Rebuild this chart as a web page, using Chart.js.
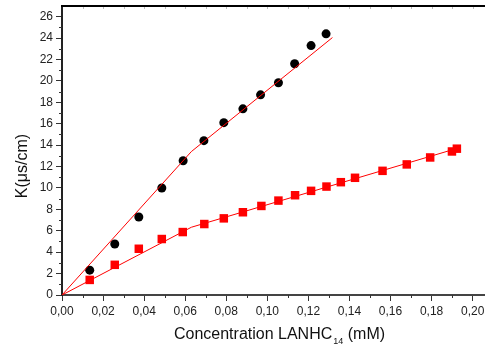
<!DOCTYPE html>
<html>
<head>
<meta charset="utf-8">
<script src="https://cdn.jsdelivr.net/npm/chart.js@4"></script>
<style>
  html, body { margin: 0; padding: 0; background: #fff; }
  #wrap { width: 485px; height: 355px; }
</style>
</head>
<body>
<div id="wrap"><canvas id="kChart" width="485" height="355"></canvas></div>
<script>
// values
const concBlack = [0.0135, 0.0257, 0.0374, 0.0486, 0.0590, 0.0691, 0.0788, 0.0881, 0.0967, 0.1054, 0.1133, 0.1213, 0.1286];
const kBlack = [2.32, 4.76, 7.29, 10.0, 12.54, 14.42, 16.1, 17.39, 18.7, 19.83, 21.6, 23.3, 24.4];
const concRed = [0.0135, 0.0257, 0.0374, 0.0486, 0.0588, 0.0693, 0.0788, 0.0881, 0.0971, 0.1054, 0.1135, 0.1213, 0.1288, 0.1358, 0.1427, 0.1561, 0.1679, 0.1793, 0.1899, 0.1923];
const kRed = [1.41, 2.82, 4.32, 5.23, 5.88, 6.63, 7.16, 7.73, 8.32, 8.82, 9.32, 9.73, 10.13, 10.54, 10.95, 11.6, 12.2, 12.85, 13.41, 13.67];
// fitted lines (two segments each)
const fitBlackX = [0, 0.063, 0.1317];
const fitBlackY = [0, 13.4, 24.05];
const fitRedX = [0, 0.063, 0.1935];
const fitRedY = [0, 6.33, 13.76];
// axis ticks
const xTicks = [0, 0.02, 0.04, 0.06, 0.08, 0.10, 0.12, 0.14, 0.16, 0.18, 0.20];
const yTicks = [0, 2, 4, 6, 8, 10, 12, 14, 16, 18, 20, 22, 24, 26];

const FONT = "'Liberation Sans', Arial, sans-serif";

function toPoints(xs, ys) {
  return xs.map((x, i) => ({ x: x, y: ys[i] }));
}

// minor ticks, top frame and axis titles
const extras = {
  id: "extras",
  afterDraw(chart) {
    const ctx = chart.ctx;
    const area = chart.chartArea;
    const xs = chart.scales.x;
    const ys = chart.scales.y;
    ctx.save();
    // minor ticks
    ctx.strokeStyle = "#333";
    ctx.lineWidth = 1;
    ctx.beginPath();
    for (let v = 1; v < 27; v += 2) {
      const py = Math.round(ys.getPixelForValue(v)) + 0.5;
      ctx.moveTo(area.left - 3, py);
      ctx.lineTo(area.left, py);
    }
    for (let i = 1; i < 21; i += 2) {
      const px = Math.round(xs.getPixelForValue(i / 100)) + 0.5;
      ctx.moveTo(px, area.bottom);
      ctx.lineTo(px, area.bottom + 3);
    }
    ctx.stroke();
    // faint top ticks
    ctx.strokeStyle = "#bbb";
    ctx.beginPath();
    for (let i = 1; i < 21; i++) {
      const px = Math.round(xs.getPixelForValue(i / 100)) + 0.5;
      ctx.moveTo(px, area.top);
      ctx.lineTo(px, area.top + 3);
    }
    ctx.stroke();
    // top frame
    ctx.strokeStyle = "#000";
    ctx.lineWidth = 2;
    ctx.beginPath();
    ctx.moveTo(area.left - 1, area.top);
    ctx.lineTo(area.right, area.top);
    ctx.stroke();

    // x title with subscript
    ctx.fillStyle = "#111";
    ctx.textBaseline = "alphabetic";
    ctx.textAlign = "left";
    const main = "Concentration LANHC";
    const sub = "14";
    const tail = " (mM)";
    ctx.font = "16px " + FONT;
    const wMain = ctx.measureText(main).width;
    const wTail = ctx.measureText(tail).width;
    ctx.font = "9px " + FONT;
    const wSub = ctx.measureText(sub).width;
    let x0 = 279 - (wMain + wSub + wTail) / 2;
    ctx.font = "16px " + FONT;
    ctx.fillText(main, x0, 339);
    ctx.font = "9px " + FONT;
    ctx.fillText(sub, x0 + wMain + 1, 344);
    ctx.font = "16px " + FONT;
    ctx.fillText(tail, x0 + wMain + wSub + 1, 339);

    // y title
    ctx.translate(23, 166);
    ctx.rotate(-Math.PI / 2);
    ctx.textAlign = "center";
    ctx.textBaseline = "middle";
    ctx.fillText("K(\u03bcs/cm)", 0, 0);
    ctx.restore();
  },
};

new Chart(document.getElementById("kChart"), {
  type: "scatter",
  data: {
    datasets: [
      {
        label: "black",
        data: toPoints(concBlack, kBlack),
        pointStyle: "circle",
        pointRadius: 4.5,
        backgroundColor: "#000",
        borderColor: "#000",
        borderWidth: 0,
        order: 2,
      },
      {
        label: "red",
        data: toPoints(concRed, kRed),
        pointStyle: "rect",
        pointRadius: 6,
        backgroundColor: "#ff0000",
        borderColor: "#ff0000",
        borderWidth: 0,
        order: 2,
      },
      {
        label: "fit black",
        data: toPoints(fitBlackX, fitBlackY),
        showLine: true,
        pointRadius: 0,
        borderColor: "#ff0000",
        borderWidth: 1,
        order: 1,
      },
      {
        label: "fit red",
        data: toPoints(fitRedX, fitRedY),
        showLine: true,
        pointRadius: 0,
        borderColor: "#ff0000",
        borderWidth: 1,
        order: 1,
      },
    ],
  },
  options: {
    responsive: false,
    animation: false,
    layout: { autoPadding: false, padding: { top: 6, right: 0, left: 0, bottom: 0 } },
    plugins: {
      legend: { display: false },
      tooltip: { enabled: false },
    },
    scales: {
      x: {
        type: "linear",
        min: 0,
        max: 0.206,
        afterFit: (scale) => {
          scale.height = 60;
          scale.paddingRight = 0;
          scale.paddingLeft = 0;
        },
        afterBuildTicks: (scale) => { scale.ticks = xTicks.map((v) => ({ value: v })); },
        ticks: {
          padding: 3,
          color: "#222",
          font: { family: FONT, size: 12 },
          callback: (v) => v.toFixed(2).replace(".", ","),
        },
        grid: { drawOnChartArea: false, tickLength: 6, color: "#333", tickWidth: 1 },
        border: { color: "#444", width: 2 },
      },
      y: {
        min: 0,
        max: 27,
        afterFit: (scale) => {
          scale.width = 62;
          scale.paddingTop = 0;
          scale.paddingBottom = 0;
        },
        afterBuildTicks: (scale) => { scale.ticks = yTicks.map((v) => ({ value: v })); },
        ticks: {
          padding: 3,
          color: "#222",
          font: { family: FONT, size: 12 },
        },
        grid: { drawOnChartArea: false, tickLength: 6, color: "#333", tickWidth: 1 },
        border: { color: "#222", width: 2 },
      },
    },
  },
  plugins: [extras],
});
</script>
</body>
</html>
